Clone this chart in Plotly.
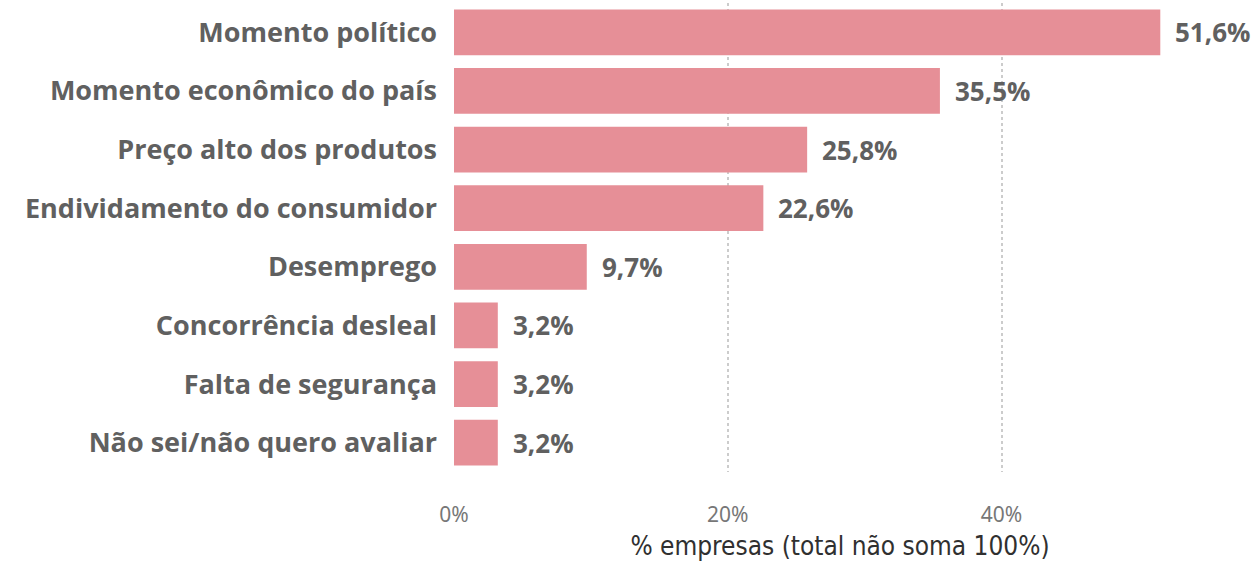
import plotly.graph_objects as go

categories = ["Momento político", "Momento econômico do país", "Preço alto dos produtos",
              "Endividamento do consumidor", "Desemprego", "Concorrência desleal",
              "Falta de segurança", "Não sei/não quero avaliar"]
values = [51.6, 35.5, 25.8, 22.6, 9.7, 3.2, 3.2, 3.2]
labels = ["51,6%", "35,5%", "25,8%", "22,6%", "9,7%", "3,2%", "3,2%", "3,2%"]
tick_vals = [0, 20, 40]
tick_text = ["0%", "20%", "40%"]

fig = go.Figure(go.Bar(
    x=values, y=categories, orientation="h",
    marker=dict(color="#E68F97", line=dict(width=0)),
))

for v, c, t in zip(values, categories, labels):
    fig.add_annotation(x=v, y=c, text=t, showarrow=False, xanchor="left", xshift=13,
                       font=dict(family="Open Sans", size=26, color="#606060", weight="bold"))

fig.update_layout(
    width=1257, height=562,
    margin=dict(l=454, r=31, t=3, b=90),
    paper_bgcolor="white", plot_bgcolor="white",
    bargap=0.22,
    showlegend=False,
    xaxis=dict(
        range=[0, 56.4],
        tickvals=tick_vals, ticktext=tick_text,
        showgrid=True, gridcolor="#CCCCCC", griddash="dot", gridwidth=1.5,
        zeroline=False, showline=False,
        tickfont=dict(family="Noto Sans", size=21, color="#777777"),
        ticks="", ticklabelstandoff=28,
        title=dict(text="% empresas (total não soma 100%)",
                   font=dict(family="DejaVu Sans Condensed", size=26, color="#303030"),
                   standoff=9),
    ),
    yaxis=dict(
        autorange="reversed",
        tickfont=dict(family="Open Sans", size=27, color="#606060", weight="bold"),
        ticks="", ticklabelstandoff=16,
        showgrid=False, zeroline=False, showline=False,
    ),
)

fig.write_html("out.html")
